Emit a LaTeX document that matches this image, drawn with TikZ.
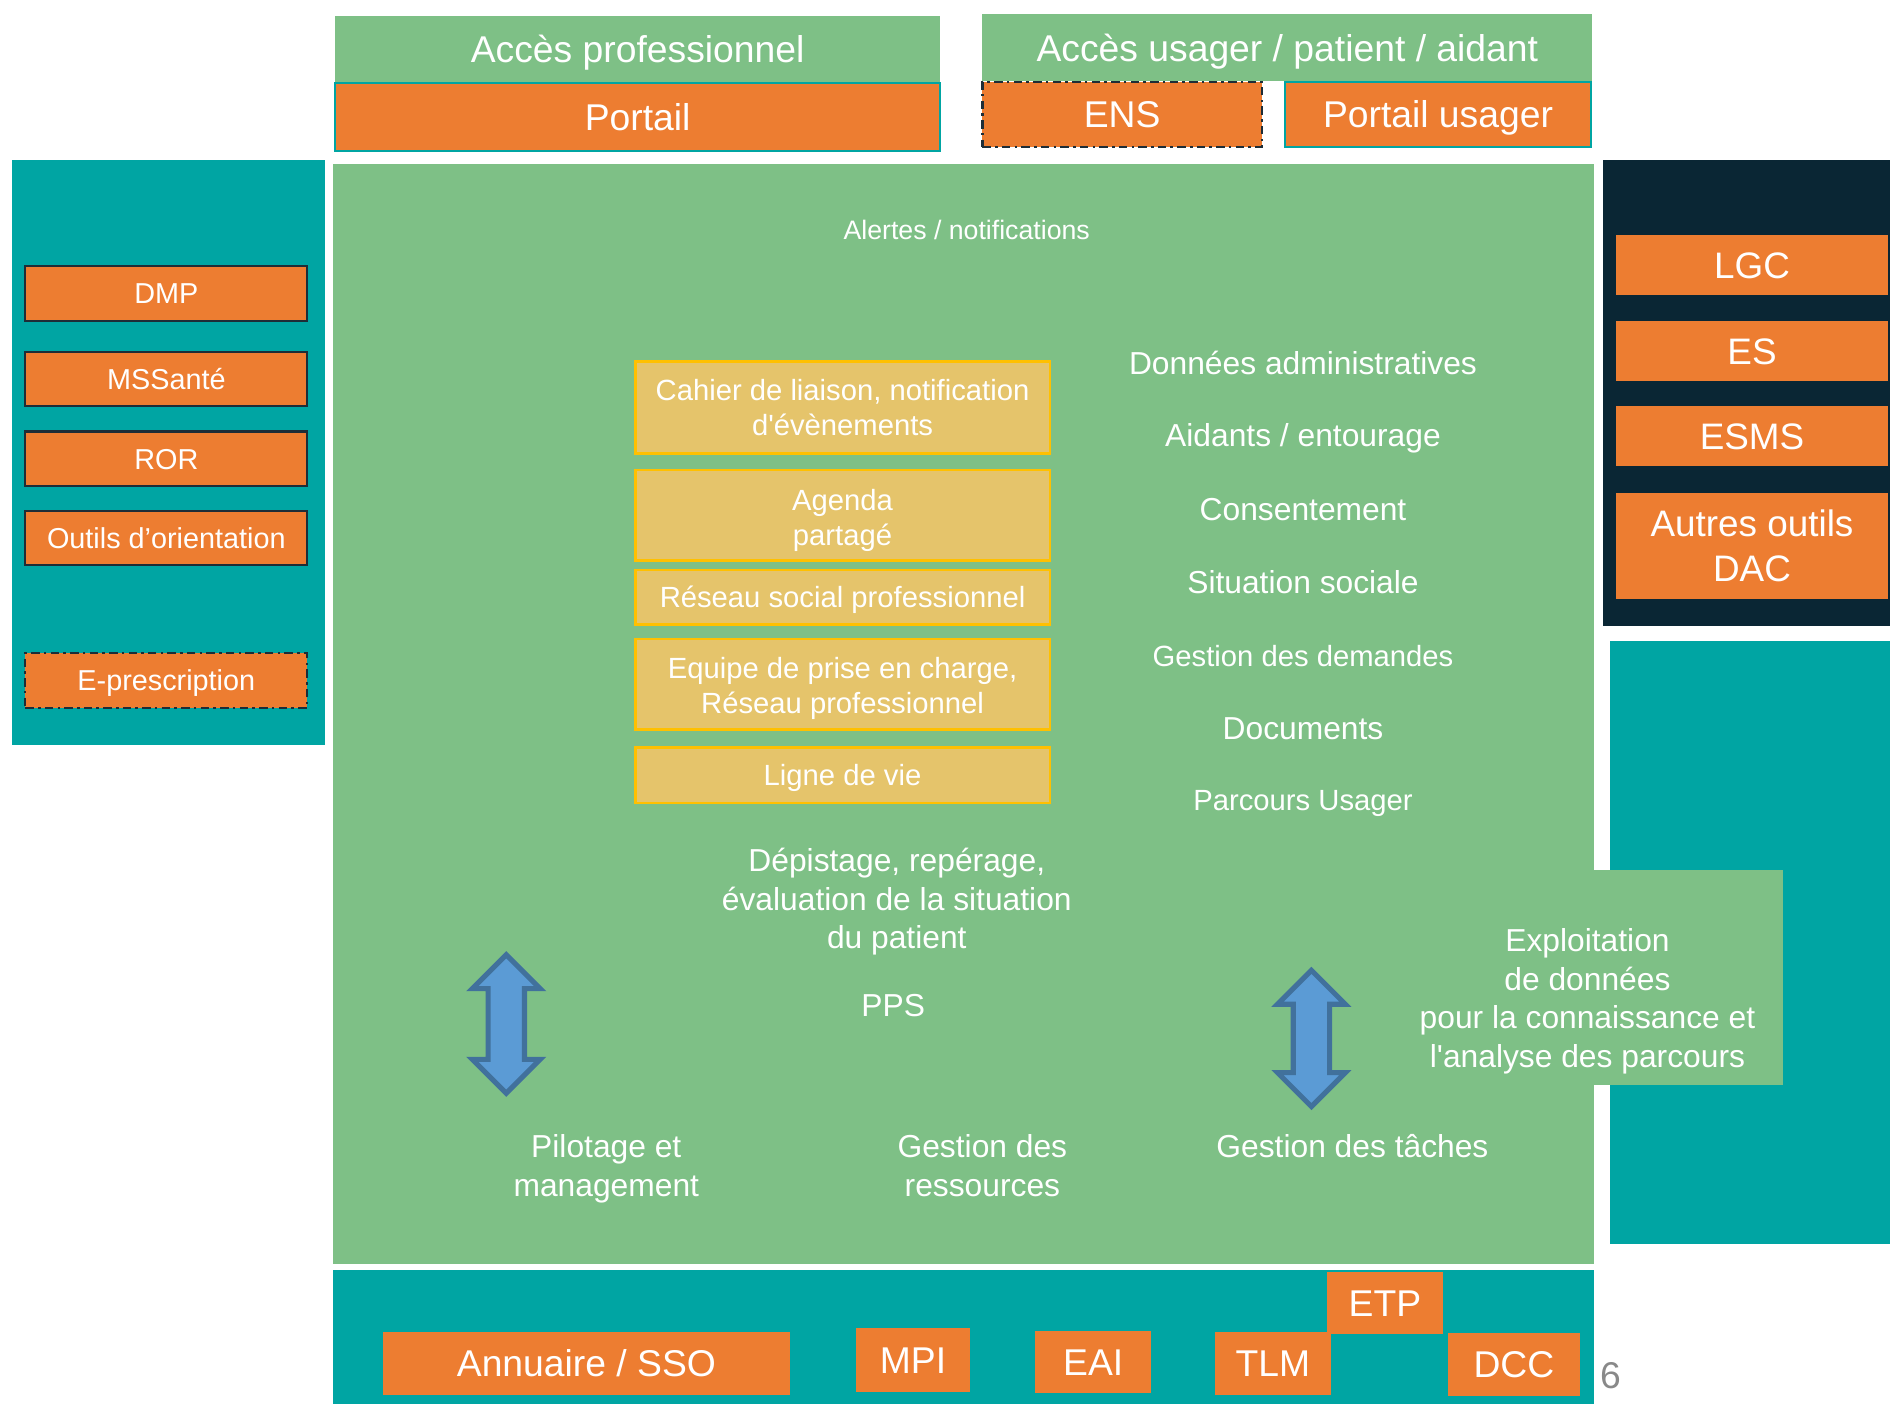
\documentclass[tikz,border=0pt]{standalone}
\usepackage{fontspec}
\setmainfont{Liberation Sans}
\usetikzlibrary{shapes.arrows}

\definecolor{vert}{RGB}{126,192,134}
\definecolor{sarcelle}{RGB}{0,165,163}
\definecolor{orangebox}{RGB}{237,125,49}
\definecolor{nuit}{RGB}{10,38,52}
\definecolor{jaune}{RGB}{229,196,107}
\definecolor{jauneb}{RGB}{255,192,0}
\definecolor{bleu}{RGB}{91,155,213}
\definecolor{bleub}{RGB}{65,113,156}
\definecolor{bord}{RGB}{30,45,55}
\definecolor{gris}{RGB}{137,137,137}

\newcommand{\ftitre}{\fontsize{8.8}{10.6}\selectfont}
\newcommand{\fdroite}{\fontsize{8.7}{10.5}\selectfont}
\newcommand{\fcentre}{\fontsize{7.5}{9.1}\selectfont}
\newcommand{\fjaune}{\fontsize{6.9}{8.25}\selectfont}
\newcommand{\fgauche}{\fontsize{6.8}{8.2}\selectfont}
\newcommand{\fpetit}{\fontsize{6.3}{7.6}\selectfont}

\begin{document}
\begin{tikzpicture}[x=1cm,y=-1cm,
  bloc/.style={rectangle,inner sep=0pt,outer sep=0pt,align=center,text=white},
  ligne/.style={text height=#1,text depth=0pt},
  titre/.style={bloc,ligne=6.34pt,fill=vert,font=\ftitre},
  outil/.style={bloc,ligne=6.34pt,fill=orangebox,font=\ftitre},
  pointille/.style={dash pattern=on 2pt off 1pt on 0.6pt off 1pt},
  gauche/.style={bloc,ligne=4.9pt,fill=orangebox,draw=bord,line width=0.5pt,font=\fgauche,minimum width=2.34cm,minimum height=0.45cm},
  droite/.style={bloc,fill=orangebox,font=\fdroite,minimum width=2.25cm},
  fonction/.style={bloc,fill=jaune,draw=jauneb,line width=0.6pt,font=\fjaune,minimum width=3.44cm},
  texte/.style={align=center,text=white,font=\fcentre,inner sep=0pt},
  bas/.style={bloc,ligne=6.34pt,fill=orangebox,font=\ftitre,minimum height=0.52cm},
  fleche/.style={double arrow,rotate=90,fill=bleu,draw=bleub,line width=1.2pt,inner xsep=0pt,inner ysep=0.13cm,double arrow head extend=0.13cm}]
  \useasboundingbox (0,0) rectangle (15.68,11.65);

  % fonds
  \node[bloc,fill=vert,minimum width=10.46cm,minimum height=9.13cm] (centre) at (7.99,5.925) {};
  \node[bloc,fill=sarcelle,minimum width=2.60cm,minimum height=4.85cm] (pgauche) at (1.40,3.755) {};
  \node[bloc,fill=nuit,minimum width=2.38cm,minimum height=3.86cm] (pdroite) at (14.49,3.26) {};
  \node[bloc,fill=sarcelle,minimum width=2.32cm,minimum height=5.00cm] (pteal) at (14.52,7.82) {};
  \node[bloc,fill=sarcelle,minimum width=10.46cm,minimum height=1.11cm] (pbas) at (7.99,11.095) {};
  \node[bloc,fill=vert,minimum width=3.24cm,minimum height=1.78cm] (exploit) at (13.17,8.11) {};

  % acces
  \node[titre,minimum width=5.02cm,minimum height=0.55cm] (accpro) at (5.29,0.405) {Accès professionnel};
  \node[outil,draw=sarcelle,line width=0.5pt,minimum width=5.02cm,minimum height=0.56cm] (portail) at (5.29,0.97) {Portail};
  \node[titre,minimum width=5.06cm,minimum height=0.55cm] (accusr) at (10.68,0.395) {Accès usager / patient / aidant};
  \node[outil,draw=bord,pointille,line width=0.6pt,minimum width=2.32cm,minimum height=0.54cm] (ens) at (9.31,0.95) {ENS};
  \node[outil,draw=sarcelle,line width=0.6pt,minimum width=2.54cm,minimum height=0.54cm] (portusr) at (11.93,0.95) {Portail usager};

  % services nationaux
  \node[gauche] (dmp) at (1.38,2.435) {DMP};
  \node[gauche] (mss) at (1.38,3.145) {MSSanté};
  \node[gauche] (ror) at (1.38,3.805) {ROR};
  \node[gauche] (orient) at (1.38,4.465) {Outils d’orientation};
  \node[gauche,pointille] (epresc) at (1.38,5.645) {E-prescription};

  % logiciels
  \node[droite,ligne=6.26pt,minimum height=0.5cm] (lgc) at (14.535,2.20) {LGC};
  \node[droite,ligne=6.26pt,minimum height=0.5cm] (es) at (14.535,2.91) {ES};
  \node[droite,ligne=6.26pt,minimum height=0.5cm] (esms) at (14.535,3.62) {ESMS};
  \node[droite,minimum height=0.88cm] (autres) at (14.535,4.53) {Autres outils\\DAC};

  % fonctions
  \node[texte,ligne=4.54pt,font=\fpetit] (alertes) at (8.02,1.91) {Alertes / notifications};
  \node[fonction,minimum height=0.76cm] (cahier) at (6.99,3.38) {Cahier de liaison, notification\\d\textquotesingle évènements};
  \node[fonction,minimum height=0.75cm] (agenda) at (6.99,4.275) {\raisebox{-0.04cm}[\height][\depth]{\parbox{3cm}{\centering Agenda\\partagé}}};
  \node[fonction,ligne=4.97pt,minimum height=0.45cm] (rsp) at (6.99,4.955) {Réseau social professionnel};
  \node[fonction,minimum height=0.75cm] (equipe) at (6.99,5.675) {\raisebox{-0.035cm}[\height][\depth]{\parbox{3.4cm}{\centering Equipe de prise en charge,\\Réseau professionnel}}};
  \node[fonction,ligne=4.97pt,minimum height=0.46cm] (lvie) at (6.99,6.43) {Ligne de vie};

  \node[texte,ligne=5.4pt] (admin) at (10.81,3.01) {Données administratives};
  \node[texte,ligne=5.4pt] (aidants) at (10.81,3.61) {Aidants / entourage};
  \node[texte,ligne=5.4pt] (consent) at (10.81,4.22) {Consentement};
  \node[texte,ligne=5.4pt] (social) at (10.81,4.83) {Situation sociale};
  \node[texte,ligne=4.97pt,font=\fjaune] (demandes) at (10.81,5.44) {Gestion des demandes};
  \node[texte,ligne=5.4pt] (docs) at (10.81,6.04) {Documents};
  \node[texte,ligne=4.97pt,font=\fjaune] (parcours) at (10.81,6.64) {Parcours Usager};

  \node[texte] (depist) at (7.44,7.48) {Dépistage, repérage,\\évaluation de la situation\\du patient};
  \node[texte,ligne=5.4pt] (pps) at (7.41,8.34) {PPS};
  \node[fleche,minimum height=1.15cm] (f1) at (4.20,8.495) {};
  \node[fleche,minimum height=1.13cm] (f2) at (10.88,8.615) {};
  \node[texte] (pilot) at (5.03,9.695) {Pilotage et\\management};
  \node[texte] (gres) at (8.15,9.67) {Gestion des\\ressources};
  \node[texte,ligne=5.4pt] (gtache) at (11.22,9.51) {Gestion des tâches};
  \node[texte] (exptxt) at (13.17,8.305) {Exploitation\\de données\\pour la connaissance et\\l\textquotesingle analyse des parcours};

  % socle
  \node[bas,minimum width=3.37cm] (annu) at (4.865,11.31) {Annuaire / SSO};
  \node[bas,minimum width=0.95cm,minimum height=0.53cm] (mpi) at (7.575,11.285) {MPI};
  \node[bas,minimum width=0.96cm] (eai) at (9.07,11.30) {EAI};
  \node[bas,minimum width=0.96cm] (tlm) at (10.56,11.31) {TLM};
  \node[bas,minimum width=0.96cm] (etp) at (11.49,10.81) {ETP};
  \node[bas,minimum width=1.10cm] (dcc) at (12.56,11.32) {DCC};

  \node[ligne=6.34pt,text=gris,font=\ftitre,inner sep=0pt] (page) at (13.36,11.41) {6};
\end{tikzpicture}
\end{document}
